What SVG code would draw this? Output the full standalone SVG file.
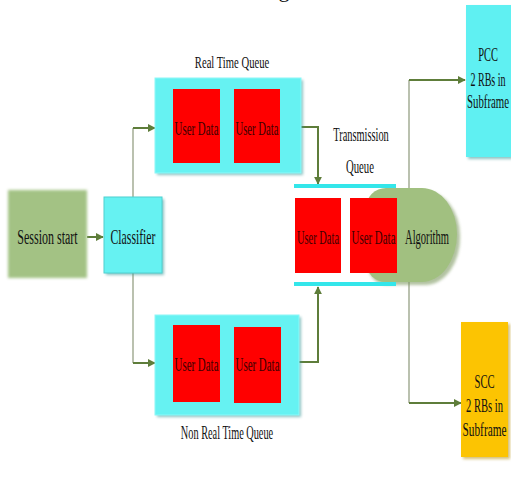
<svg xmlns="http://www.w3.org/2000/svg" width="511" height="487" viewBox="0 0 511 487">
<defs>
<style>
.t{font-family:'Liberation Serif','DejaVu Serif',serif;fill:#111111;text-anchor:middle}
.u{font-family:'Liberation Serif','DejaVu Serif',serif;fill:#400000;text-anchor:middle;font-size:19px}
.red{fill:#ff0000}
.cyan{fill:#66f2f2}
.shadow{fill:#3f9b9b;opacity:0.6}
.ln{fill:none;stroke:#5e7d3a;stroke-width:2}
.lg{fill:none;stroke:#a3ad94;stroke-width:1.5}
.tq{stroke:#33e6ea;stroke-width:4}
</style>
<marker id="ah" viewBox="0 0 10 10" refX="9" refY="5" markerWidth="4" markerHeight="4" orient="auto">
<path d="M0,0 L10,5 L0,10 z" fill="#5e7d3a"/>
</marker>
<filter id="soft" x="-10%" y="-10%" width="120%" height="120%"><feGaussianBlur stdDeviation="1.6"/></filter>
<filter id="sh" x="-10%" y="-10%" width="130%" height="130%"><feGaussianBlur stdDeviation="1.5"/></filter>
</defs>
<rect width="511" height="487" fill="#ffffff"/>
<text class="t" x="284" y="-3" font-size="22">g</text>

<g id="connectors">
<line class="ln" x1="87" y1="237" x2="103" y2="237" marker-end="url(#ah)"/>
<line class="lg" x1="133" y1="128" x2="133" y2="197"/>
<line class="lg" x1="133" y1="273" x2="133" y2="363"/>
<line class="ln" x1="133" y1="128" x2="155" y2="128" marker-end="url(#ah)"/>
<line class="ln" x1="133" y1="363" x2="155" y2="363" marker-end="url(#ah)"/>
<polyline class="ln" points="301,127 318,127 318,184" marker-end="url(#ah)"/>
<polyline class="ln" points="299,362 318,362 318,287" marker-end="url(#ah)"/>
<line class="lg" x1="409" y1="80" x2="409" y2="403"/>
<line class="ln" x1="409" y1="80" x2="465" y2="80" marker-end="url(#ah)"/>
<line class="ln" x1="409" y1="403" x2="461" y2="403" marker-end="url(#ah)"/>
</g>

<g id="session-start">
<rect x="8" y="190" width="79" height="88" fill="#a3c284" filter="url(#soft)"/>
<text class="t" font-size="20" transform="translate(47.5,244) scale(0.6,1)">Session start</text>
</g>

<g id="classifier">
<rect x="106" y="199" width="58" height="76" class="shadow" filter="url(#sh)"/>
<rect x="104" y="197" width="58" height="76" class="cyan" stroke="#4fd0d0" stroke-width="1"/>
<text class="t" font-size="20" transform="translate(133,244) scale(0.587,1)">Classifier</text>
</g>

<g id="real-time-queue">
<text class="t" font-size="16" transform="translate(232,68) scale(0.664,1)">Real Time Queue</text>
<rect x="157" y="80" width="146" height="95" class="shadow" filter="url(#sh)"/>
<rect x="155" y="78" width="146" height="95" class="cyan" stroke="#8ff8f8" stroke-width="1"/>
<rect x="173" y="89" width="47" height="74" class="red"/>
<rect x="234" y="89" width="46" height="74" class="red"/>
<text class="u" transform="translate(196.5,135) scale(0.575,1)">User Data</text>
<text class="u" transform="translate(257,135) scale(0.565,1)">User Data</text>
</g>

<g id="non-real-time-queue">
<rect x="157" y="317" width="144" height="100" class="shadow" filter="url(#sh)"/>
<rect x="155" y="315" width="144" height="100" class="cyan" stroke="#8ff8f8" stroke-width="1"/>
<rect x="173" y="325" width="47" height="77" class="red"/>
<rect x="234" y="327" width="47" height="76" class="red"/>
<text class="u" transform="translate(196.5,371) scale(0.575,1)">User Data</text>
<text class="u" transform="translate(257.5,371) scale(0.575,1)">User Data</text>
<text class="t" font-size="19" transform="translate(227,439) scale(0.542,1)">Non Real Time Queue</text>
</g>

<g id="algorithm">
<path d="M386,191 H425 A35,45 0 0 1 460,236 A35,47 0 0 1 425,285 H386 A20,20 0 0 1 368,265 V211 A20,20 0 0 1 386,191 Z" fill="#7f9a62" opacity="0.6" filter="url(#sh)"/>
<path d="M386,188 H422 A35,46 0 0 1 457,234 A35,48 0 0 1 422,282 H386 A20,20 0 0 1 366,262 V208 A20,20 0 0 1 386,188 Z" fill="#a1c080"/>
<text class="t" font-size="20" transform="translate(427,244) scale(0.528,1)">Algorithm</text>
</g>

<g id="transmission-queue">
<text class="t" font-size="18" transform="translate(361,141) scale(0.577,1)">Transmission</text>
<text class="t" font-size="18" transform="translate(360,173) scale(0.596,1)">Queue</text>
<line class="tq" x1="294" y1="186" x2="396" y2="186"/>
<line class="tq" x1="294" y1="284" x2="396" y2="284"/>
<rect x="295" y="198" width="46" height="75" class="red"/>
<rect x="350" y="198" width="47" height="75" class="red"/>
<text class="u" transform="translate(318,244) scale(0.55,1)">User Data</text>
<text class="u" transform="translate(373.5,244) scale(0.575,1)">User Data</text>
</g>

<g id="pcc">
<rect x="468" y="7" width="45" height="152" class="shadow" filter="url(#sh)"/>
<rect x="466" y="5" width="45" height="152" fill="#5ff0f2"/>
<text class="t" font-size="19" transform="translate(488,61) scale(0.55,1)">PCC</text>
<text class="t" font-size="19" transform="translate(488,86) scale(0.53,1)">2 RBs in</text>
<text class="t" font-size="19" transform="translate(488,108) scale(0.57,1)">Subframe</text>
</g>

<g id="scc">
<rect x="463" y="324" width="47" height="135" fill="#b08a00" opacity="0.55" filter="url(#sh)"/>
<rect x="461" y="322" width="47" height="135" fill="#fcc402"/>
<text class="t" font-size="19" transform="translate(484.5,388) scale(0.557,1)">SCC</text>
<text class="t" font-size="19" transform="translate(484.5,412) scale(0.556,1)">2 RBs in</text>
<text class="t" font-size="19" transform="translate(484.5,436) scale(0.595,1)">Subframe</text>
</g>
</svg>
